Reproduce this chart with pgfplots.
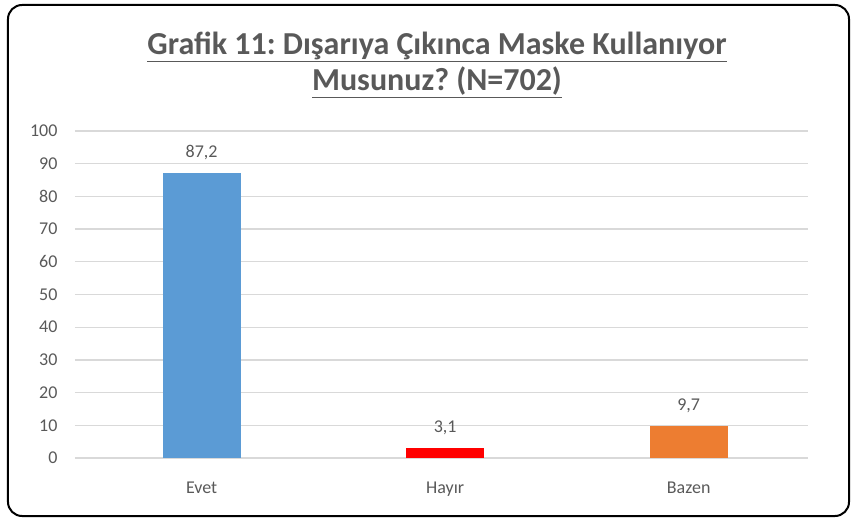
\documentclass[border=0pt]{standalone}
\usepackage{pgfplots}
\pgfplotsset{compat=1.18}
\usepackage{fontspec}
\setmainfont{Carlito}
\frenchspacing
\definecolor{cblue}{HTML}{5B9BD5}
\definecolor{cred}{HTML}{FF0000}
\definecolor{corange}{HTML}{ED7D31}
\definecolor{cgrid}{HTML}{D9D9D9}
\definecolor{ctext}{HTML}{595959}
\begin{document}
\begin{tikzpicture}
\useasboundingbox (-75bp,-62bp) rectangle (780bp,458bp);
\draw[line width=2bp, rounded corners=14bp] (-67bp,-58bp) rectangle (774bp,453bp);
\node[font=\fontsize{32bp}{36bp}\selectfont\bfseries, text=ctext, align=center] at (362bp,393bp)
  {\underline{Grafik 11: Dışarıya Çıkınca Maske Kullanıyor}\\[0bp]\underline{Musunuz? (N=702)}};
\begin{axis}[
  at={(0,0)}, anchor=south west,
  scale only axis, width=733bp, height=327bp,
  xmin=-0.52, xmax=2.49, ymin=0, ymax=100,
  ytick={0,10,...,100},
  xtick={0,1,2}, xticklabels={Evet,Hayır,Bazen},
  axis line style={draw=none},
  major tick length=0pt,
  ymajorgrids, grid style={cgrid, line width=1.3bp},
  tick label style={font=\fontsize{18bp}{21bp}\selectfont, text=ctext},
  yticklabel style={xshift=-14bp},
  xticklabel style={yshift=-20bp},
  /pgf/number format/assume math mode=true,
  ybar, bar width=78bp, bar shift=0pt,
  nodes near coords,
  every node near coord/.append style={font=\fontsize{18bp}{21bp}\selectfont, text=ctext, yshift=10bp,
    /pgf/number format/.cd, fixed, fixed zerofill, precision=1, use comma, assume math mode=true},
  clip=false,
]
\addplot[fill=cblue, draw=none] coordinates {(0,87.2)};
\addplot[fill=cred, draw=none] coordinates {(1,3.1)};
\addplot[fill=corange, draw=none] coordinates {(2,9.7)};
\end{axis}
\end{tikzpicture}
\end{document}
